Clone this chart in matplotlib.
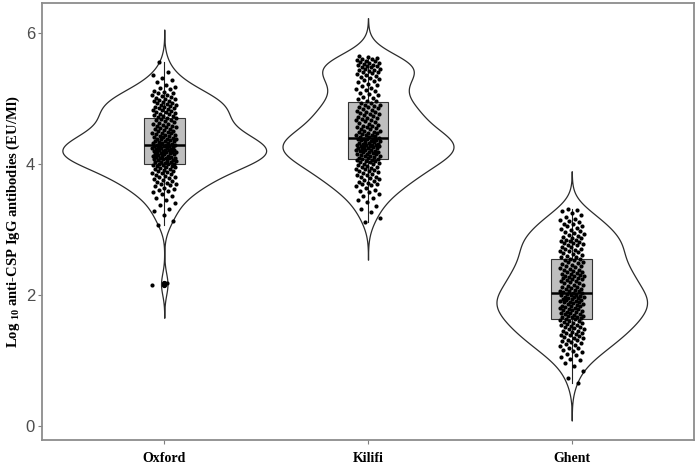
import numpy as np
import matplotlib
matplotlib.use("Agg")
import matplotlib.pyplot as plt

# ---------------- data ----------------
groups = ["Oxford", "Kilifi", "Ghent"]

oxford = [2.15, 2.19,
          3.07, 3.13, 3.22, 3.28, 3.31, 3.37, 3.41, 3.45, 3.48,
          3.51, 3.54, 3.57, 3.59, 3.60, 3.62, 3.64, 3.66, 3.68, 3.69,
          3.70, 3.71, 3.73, 3.75, 3.76, 3.78, 3.79,
          3.80, 3.81, 3.82, 3.84, 3.85, 3.86, 3.87, 3.88, 3.89,
          3.90, 3.91, 3.92, 3.93, 3.94, 3.95, 3.96, 3.97, 3.97, 3.98, 3.99,
          4.00, 4.01, 4.01, 4.02, 4.03, 4.03, 4.04, 4.05, 4.05, 4.06, 4.07, 4.08, 4.08, 4.09, 4.09,
          4.10, 4.10, 4.11, 4.11, 4.12, 4.13, 4.13, 4.14, 4.15, 4.15, 4.16, 4.17, 4.17, 4.18, 4.18, 4.19, 4.19,
          4.20, 4.20, 4.21, 4.21, 4.22, 4.22, 4.23, 4.23, 4.24, 4.24, 4.25, 4.26, 4.26, 4.27, 4.28, 4.28, 4.29, 4.29,
          4.30, 4.30, 4.31, 4.32, 4.33, 4.33, 4.34, 4.35, 4.35, 4.36, 4.37, 4.38, 4.38, 4.39, 4.39,
          4.40, 4.41, 4.42, 4.43, 4.43, 4.44, 4.45, 4.46, 4.47, 4.47, 4.48, 4.49,
          4.50, 4.51, 4.52, 4.53, 4.54, 4.55, 4.56, 4.57, 4.58, 4.59,
          4.60, 4.61, 4.62, 4.63, 4.65, 4.66, 4.67, 4.68, 4.69,
          4.70, 4.71, 4.72, 4.73, 4.74, 4.75, 4.76, 4.77, 4.78, 4.79,
          4.80, 4.81, 4.82, 4.83, 4.84, 4.85, 4.86, 4.87, 4.88, 4.89,
          4.90, 4.91, 4.92, 4.93, 4.94, 4.95, 4.96, 4.97, 4.98, 4.99,
          5.00, 5.01, 5.03, 5.04, 5.05, 5.06, 5.08, 5.09,
          5.10, 5.12, 5.14, 5.16, 5.18,
          5.21, 5.25, 5.28, 5.31, 5.36, 5.41, 5.56]

kilifi = [3.12, 3.18, 3.27, 3.31, 3.36, 3.42, 3.46, 3.49,
          3.51, 3.55, 3.57, 3.59, 3.61, 3.63, 3.66, 3.68, 3.69,
          3.70, 3.72, 3.73, 3.75, 3.76, 3.78, 3.79,
          3.80, 3.81, 3.83, 3.84, 3.85, 3.87, 3.88, 3.89,
          3.90, 3.91, 3.92, 3.93, 3.94, 3.95, 3.96, 3.97, 3.99,
          4.00, 4.01, 4.02, 4.03, 4.04, 4.05, 4.05, 4.06, 4.07, 4.08, 4.08, 4.09,
          4.10, 4.11, 4.12, 4.13, 4.13, 4.14, 4.15, 4.16, 4.16, 4.17, 4.18, 4.19, 4.19,
          4.20, 4.20, 4.21, 4.21, 4.22, 4.23, 4.24, 4.24, 4.25, 4.26, 4.26, 4.27, 4.28, 4.28, 4.29, 4.29,
          4.30, 4.30, 4.31, 4.31, 4.32, 4.33, 4.34, 4.34, 4.35, 4.36, 4.37, 4.37, 4.38, 4.38, 4.39, 4.39,
          4.40, 4.41, 4.42, 4.43, 4.44, 4.45, 4.45, 4.46, 4.47, 4.48, 4.49, 4.49,
          4.50, 4.51, 4.53, 4.54, 4.55, 4.56, 4.57, 4.58, 4.59,
          4.60, 4.61, 4.63, 4.65, 4.66, 4.67, 4.68, 4.69,
          4.70, 4.71, 4.72, 4.74, 4.75, 4.76, 4.77, 4.78, 4.79,
          4.80, 4.81, 4.83, 4.84, 4.85, 4.87, 4.88, 4.89,
          4.90, 4.91, 4.93, 4.94, 4.96, 4.97, 4.99,
          5.01, 5.03, 5.05, 5.07, 5.09,
          5.11, 5.13, 5.15, 5.17, 5.19,
          5.21, 5.23, 5.25, 5.27, 5.29,
          5.30, 5.31, 5.33, 5.35, 5.36, 5.38, 5.39,
          5.40, 5.41, 5.42, 5.43, 5.44, 5.45, 5.46, 5.48, 5.49,
          5.50, 5.50, 5.51, 5.52, 5.53, 5.54, 5.55, 5.56, 5.57, 5.58, 5.59,
          5.60, 5.61, 5.62, 5.63, 5.65]

ghent = [0.66, 0.74, 0.85, 0.92, 0.97,
         1.01, 1.03, 1.05, 1.08, 1.11, 1.13, 1.15, 1.17, 1.19,
         1.20, 1.22, 1.24, 1.25, 1.27, 1.29,
         1.30, 1.31, 1.32, 1.34, 1.35, 1.36, 1.38, 1.39,
         1.40, 1.41, 1.42, 1.43, 1.44, 1.45, 1.46, 1.48, 1.49,
         1.50, 1.51, 1.52, 1.53, 1.54, 1.55, 1.56, 1.57, 1.58, 1.59,
         1.60, 1.61, 1.62, 1.63, 1.64, 1.65, 1.66, 1.66, 1.67, 1.68, 1.69,
         1.70, 1.71, 1.72, 1.73, 1.73, 1.74, 1.75, 1.76, 1.77, 1.78, 1.79, 1.79,
         1.80, 1.81, 1.82, 1.83, 1.83, 1.84, 1.85, 1.86, 1.87, 1.88, 1.89, 1.89,
         1.90, 1.91, 1.91, 1.92, 1.93, 1.94, 1.94, 1.95, 1.96, 1.97, 1.97, 1.98, 1.99,
         2.00, 2.01, 2.01, 2.02, 2.03, 2.04, 2.05, 2.06, 2.07, 2.07, 2.08, 2.09,
         2.10, 2.11, 2.12, 2.13, 2.14, 2.15, 2.16, 2.18, 2.19,
         2.20, 2.21, 2.22, 2.23, 2.24, 2.25, 2.26, 2.27, 2.28, 2.29, 2.29,
         2.30, 2.31, 2.32, 2.33, 2.34, 2.35, 2.36, 2.37, 2.38, 2.39,
         2.40, 2.41, 2.43, 2.44, 2.45, 2.46, 2.48, 2.49,
         2.50, 2.51, 2.53, 2.54, 2.55, 2.56, 2.58, 2.59,
         2.60, 2.61, 2.63, 2.64, 2.66, 2.67, 2.68, 2.69,
         2.70, 2.71, 2.73, 2.74, 2.76, 2.77, 2.78, 2.79,
         2.80, 2.81, 2.82, 2.83, 2.84, 2.85, 2.87, 2.88, 2.89,
         2.90, 2.92, 2.93, 2.95, 2.96, 2.98, 2.99,
         3.01, 3.03, 3.05, 3.06, 3.08, 3.09,
         3.11, 3.13, 3.15, 3.17, 3.19,
         3.22, 3.25, 3.28, 3.30, 3.32]

y_ticks = [0, 2, 4, 6]
y_label_main = "Log"
y_label_sub = "10"
y_label_rest = "anti-CSP IgG antibodies (EU/Ml)"

# ---------------- helpers ----------------
def bw_nrd0(x):
    x = np.asarray(x, float)
    hi = np.std(x, ddof=1)
    q75, q25 = np.percentile(x, [75, 25])
    lo = min(hi, (q75 - q25) / 1.34)
    return 0.9 * lo * len(x) ** -0.2

def kde(x):
    x = np.asarray(x, float)
    bw = bw_nrd0(x)
    grid = np.linspace(x.min() - 3 * bw, x.max() + 3 * bw, 512)
    d = np.exp(-0.5 * ((grid[:, None] - x[None, :]) / bw) ** 2).sum(1)
    d /= (len(x) * bw * np.sqrt(2 * np.pi))
    return grid, d

# ---------------- figure ----------------
plt.rcParams["mathtext.fontset"] = "custom"
plt.rcParams["mathtext.rm"] = "Liberation Serif:bold"
plt.rcParams["mathtext.bf"] = "Liberation Serif:bold"

fig = plt.figure(figsize=(7.0, 4.67), dpi=100)
ax = fig.add_axes([42 / 700, 1 - 440 / 467, (694 - 42) / 700, (440 - 3) / 467])

data = [oxford, kilifi, ghent]
positions = np.arange(1, len(groups) + 1)

dens = [kde(d) for d in data]
maxd = max(d.max() for _, d in dens)
violin_width = 1.0
for pos, (grid, d) in zip(positions, dens):
    hw = d / maxd * violin_width / 2
    ax.fill_betweenx(grid, pos - hw, pos + hw, facecolor="white",
                     edgecolor="#2b2b2b", linewidth=0.9, zorder=1)

bp = ax.boxplot(data, positions=positions, widths=0.2, whis=1.5,
                patch_artist=True, manage_ticks=False,
                boxprops=dict(facecolor="#bebebe", edgecolor="#333333", linewidth=0.8),
                medianprops=dict(color="black", linewidth=1.8),
                whiskerprops=dict(color="#222222", linewidth=0.8),
                capprops=dict(linewidth=0),
                flierprops=dict(marker="o", markerfacecolor="black",
                                markeredgecolor="black", markersize=2.8),
                zorder=2)

phi = 0.6180339887
for i, (pos, vals) in enumerate(zip(positions, data)):
    k = np.arange(len(vals))
    off = (((k * phi) + 0.37 * i) % 1.0 - 0.5) * 2 * 0.06
    ax.scatter(pos + off, vals, s=9, color="black", linewidths=0, zorder=3)

ax.set_xlim(0.4, 3.6)
ax.set_ylim(-0.21, 6.46)
ax.set_xticks(positions)
ax.set_xticklabels(groups, fontfamily="Liberation Serif", fontweight="bold",
                   fontsize=10, color="black")
ax.set_yticks(y_ticks)
ax.set_yticklabels([str(t) for t in y_ticks], fontfamily="Liberation Sans",
                   fontsize=12, color="#4d4d4d")
ax.tick_params(axis="both", length=3, width=0.8, color="#7f7f7f")
ax.tick_params(axis="x", pad=6)
ax.tick_params(axis="y", pad=2)
for sp in ax.spines.values():
    sp.set_color("#8c8c8c")
    sp.set_linewidth(1.3)

ax.set_ylabel(r"%s $_{\mathrm{%s}}$ %s" % (y_label_main, y_label_sub, y_label_rest),
              fontfamily="Liberation Serif", fontweight="bold", fontsize=10.5,
              va="center")
ax.yaxis.set_label_coords((13 - 42) / 652, 0.5)

fig.savefig("out.png", dpi=100)
